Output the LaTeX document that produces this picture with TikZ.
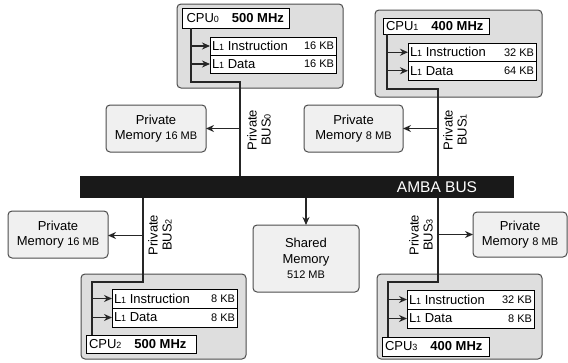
\documentclass[tikz,border=0pt]{standalone}
\usepackage{fontspec}
\setmainfont{Liberation Sans}
\usetikzlibrary{arrows.meta}
% small index digit used in CPU0, L1, BUS0 ...
\newcommand{\idx}[1]{{\fontsize{9}{10}\selectfont #1}}
\newcommand{\smallsz}{\fontsize{11}{12}\selectfont}

\begin{document}
\begin{tikzpicture}[x=1pt,y=-1pt,
  every node/.style={outer sep=0pt},
  cpubox/.style={draw=black!70, fill=black!13, rounded corners=4pt, line width=1pt, anchor=north west},
  membox/.style={draw=black!70, fill=black!6, rounded corners=4pt, line width=1pt, anchor=north west,
                 align=center, font=\fontsize{13}{15.5}\selectfont},
  cell/.style={draw=black, fill=white, line width=1pt, anchor=north west, inner sep=0pt},
  celltxt/.style={inner sep=0pt, font=\fontsize{13}{14}\selectfont},
  wire/.style={draw=black!85, line width=1.1pt},
  arr/.style={wire, -{Stealth[length=8pt,width=7pt]}},
  buslbl/.style={rotate=90, align=center, inner sep=0pt, font=\fontsize{13}{14}\selectfont}]
\useasboundingbox (0,0) rectangle (568,362);

% ---------------- AMBA bus ----------------
\node[fill=black!90, minimum width=434pt, minimum height=22pt, anchor=north west, inner sep=0pt] (bus) at (80,176) {};
\node[text=white, inner sep=0pt, font=\fontsize{15.5}{16}\selectfont] (buslabel) at (437,187) {AMBA BUS};

% ---------------- CPU0 ----------------
\node[cpubox, minimum width=166pt, minimum height=84pt] (c0) at (177,4) {};
\node[cell, minimum width=107pt, minimum height=20pt] (c0l) at (182,8) {};
\node[celltxt, anchor=west] at ([xshift=4.5pt]c0l.west) {CPU\idx{0}\hspace{13pt}\textbf{500 MHz}};
\node[cell, minimum width=126pt, minimum height=18pt] (c0i) at (210,37) {};
\node[cell, minimum width=126pt, minimum height=18pt] (c0d) at (210,55) {};
\node[celltxt, anchor=west] at ([xshift=2pt]c0i.west) {L\idx{1} Instruction};
\node[celltxt, anchor=east, font=\smallsz] at ([xshift=-2pt]c0i.east) {16 KB};
\node[celltxt, anchor=west] at ([xshift=2pt]c0d.west) {L\idx{1} Data};
\node[celltxt, anchor=east, font=\smallsz] at ([xshift=-2pt]c0d.east) {16 KB};
\coordinate (j0) at (191,82);
\coordinate (b0) at (240,0);

% ---------------- CPU1 ----------------
\node[cpubox, minimum width=167pt, minimum height=87pt] (c1) at (375,10) {};
\node[cell, minimum width=106pt, minimum height=16pt] (c1l) at (383,18) {};
\node[celltxt, anchor=west] at ([xshift=3pt]c1l.west) {CPU\idx{1}\hspace{13pt}\textbf{400 MHz}};
\node[cell, minimum width=128pt, minimum height=18.5pt] (c1i) at (408,43) {};
\node[cell, minimum width=128pt, minimum height=18.5pt] (c1d) at (408,61.5) {};
\node[celltxt, anchor=west] at ([xshift=2pt]c1i.west) {L\idx{1} Instruction};
\node[celltxt, anchor=east, font=\smallsz] at ([xshift=-2pt]c1i.east) {32 KB};
\node[celltxt, anchor=west] at ([xshift=2pt]c1d.west) {L\idx{1} Data};
\node[celltxt, anchor=east, font=\smallsz] at ([xshift=-2pt]c1d.east) {64 KB};
\coordinate (j1) at (387,89);
\coordinate (b1) at (438,0);

% ---------------- CPU2 ----------------
\node[cpubox, minimum width=165pt, minimum height=85pt] (c2) at (81,274) {};
\node[cell, minimum width=125pt, minimum height=19pt] (c2i) at (112,289) {};
\node[cell, minimum width=125pt, minimum height=19pt] (c2d) at (112,308) {};
\node[celltxt, anchor=west] at ([xshift=2pt]c2i.west) {L\idx{1} Instruction};
\node[celltxt, anchor=east, font=\smallsz] at ([xshift=-2pt]c2i.east) {8 KB};
\node[celltxt, anchor=west] at ([xshift=2pt]c2d.west) {L\idx{1} Data};
\node[celltxt, anchor=east, font=\smallsz] at ([xshift=-2pt]c2d.east) {8 KB};
\node[cell, minimum width=110pt, minimum height=18pt] (c2l) at (86,335) {};
\node[celltxt, anchor=west] at ([xshift=3pt]c2l.west) {CPU\idx{2}\hspace{13pt}\textbf{500 MHz}};
\coordinate (j2) at (92,282);
\coordinate (b2) at (143,0);

% ---------------- CPU3 ----------------
\node[cpubox, minimum width=165pt, minimum height=85pt] (c3) at (377,274) {};
\node[cell, minimum width=127pt, minimum height=19pt] (c3i) at (407,290) {};
\node[cell, minimum width=127pt, minimum height=19pt] (c3d) at (407,309) {};
\node[celltxt, anchor=west] at ([xshift=2pt]c3i.west) {L\idx{1} Instruction};
\node[celltxt, anchor=east, font=\smallsz] at ([xshift=-2pt]c3i.east) {32 KB};
\node[celltxt, anchor=west] at ([xshift=2pt]c3d.west) {L\idx{1} Data};
\node[celltxt, anchor=east, font=\smallsz] at ([xshift=-2pt]c3d.east) {8 KB};
\node[cell, minimum width=107pt, minimum height=19pt] (c3l) at (382,337) {};
\node[celltxt, anchor=west] at ([xshift=3pt]c3l.west) {CPU\idx{3}\hspace{13pt}\textbf{400 MHz}};
\coordinate (j3) at (388,282);
\coordinate (b3) at (438,0);

% ---------------- memories ----------------
\node[membox, minimum width=100pt, minimum height=47pt] (pm0) at (106,105) {Private\\Memory {\smallsz 16 MB}};
\node[membox, minimum width=99pt, minimum height=47pt] (pm1) at (304,105) {Private\\Memory {\smallsz 8 MB}};
\node[membox, minimum width=100pt, minimum height=47pt] (pm2) at (8,211) {Private\\Memory {\smallsz 16 MB}};
\node[membox, minimum width=94pt, minimum height=45pt] (pm3) at (473,212) {Private\\Memory {\smallsz 8 MB}};
\node[membox, minimum width=106pt, minimum height=67pt, font=\fontsize{13}{15.5}\selectfont] (sm) at (253,225) {Shared\\Memory\\{\smallsz 512 MB}};

% ---------------- private bus labels ----------------
\node[buslbl] (bl0) at (259,130) {Private\\BUS\idx{0}};
\node[buslbl] (bl1) at (455,130) {Private\\BUS\idx{1}};
\node[buslbl] (bl2) at (160,235) {Private\\BUS\idx{2}};
\node[buslbl] (bl3) at (421,235) {Private\\BUS\idx{3}};

% ---------------- connectors ----------------
% CPU0 side
\draw[wire] (j0 |- c0l.south) -- (j0) -| (bus.north -| b0);
\draw[arr] (j0 |- c0i.west) -- (c0i.west);
\draw[arr] (j0 |- c0d.west) -- (c0d.west);
\draw[arr] (pm0.east -| b0) -- (pm0.east);
% CPU1 side
\draw[wire] (j1 |- c1l.south) -- (j1) -| (bus.north -| b1);
\draw[arr] (j1 |- c1i.west) -- (c1i.west);
\draw[arr] (j1 |- c1d.west) -- (c1d.west);
\draw[arr] (pm1.east -| b1) -- (pm1.east);
% CPU2 side
\draw[wire] (bus.south -| b2) |- (j2) -- (j2 |- c2l.north);
\draw[arr] (j2 |- c2i.west) -- (c2i.west);
\draw[arr] (j2 |- c2d.west) -- (c2d.west);
\draw[arr] ([yshift=-1pt]pm2.east -| b2) -- ([yshift=-1pt]pm2.east);
% CPU3 side
\draw[wire] (bus.south -| b3) |- (j3) -- (j3 |- c3l.north);
\draw[arr] (j3 |- c3i.west) -- (c3i.west);
\draw[arr] (j3 |- c3d.west) -- (c3d.west);
\draw[arr] (pm3.west -| b3) -- (pm3.west);
% shared memory
\draw[arr] (bus.south -| sm.north) -- (sm.north);
\end{tikzpicture}
\end{document}
